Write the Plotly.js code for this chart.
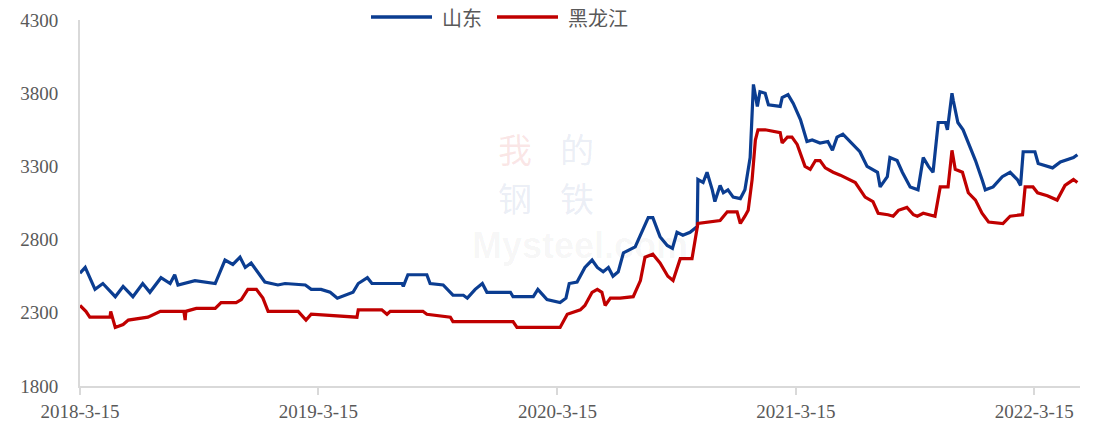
<!DOCTYPE html>
<html>
<head>
<meta charset="utf-8">
<script src="https://cdn.plot.ly/plotly-3.0.1.min.js"></script>
<style>html,body{margin:0;padding:0;background:#fff;}#chart{width:1095px;height:430px;}</style>
</head>
<body>
<div id="chart"></div>
<script>
// ---- data ----
const seriesNames = ["山东", "黑龙江"];
const tickDates = ["2018-03-15", "2019-03-15", "2020-03-15", "2021-03-15", "2022-03-15"];
const tickLabels = ["2018-3-15", "2019-3-15", "2020-3-15", "2021-3-15", "2022-3-15"];
const yTicks = [1800, 2300, 2800, 3300, 3800, 4300];

const shandongDates = [
"2018-03-15","2018-03-23","2018-04-07","2018-04-19","2018-05-08","2018-05-20","2018-06-04","2018-06-19","2018-06-30","2018-07-17",
"2018-07-31","2018-08-07","2018-08-12","2018-09-07","2018-10-08","2018-10-23","2018-11-04","2018-11-15","2018-11-23","2018-12-02",
"2018-12-23","2019-01-12","2019-01-23","2019-02-23","2019-03-04","2019-03-19","2019-04-02","2019-04-13","2019-05-07","2019-05-15",
"2019-05-29","2019-06-05","2019-07-21","2019-07-23","2019-07-30","2019-08-28","2019-09-02","2019-09-22","2019-10-07","2019-10-23",
"2019-10-29","2019-11-10","2019-11-21","2019-11-28","2020-01-03","2020-01-07","2020-02-07","2020-02-14","2020-02-28","2020-03-19",
"2020-03-28","2020-04-02","2020-04-14","2020-04-26","2020-05-07","2020-05-15","2020-05-24","2020-06-01","2020-06-08","2020-06-16",
"2020-06-24","2020-07-12","2020-07-20","2020-08-01","2020-08-08","2020-08-19","2020-08-30","2020-09-07","2020-09-14","2020-09-23",
"2020-10-04","2020-10-15","2020-10-16","2020-10-24","2020-10-30","2020-11-07","2020-11-11","2020-11-19","2020-11-24","2020-12-01",
"2020-12-09","2020-12-20","2020-12-27","2021-01-04","2021-01-09","2021-01-15","2021-01-19","2021-01-27","2021-02-01","2021-02-19",
"2021-02-22","2021-03-03","2021-03-11","2021-03-22","2021-04-01","2021-04-09","2021-04-21","2021-05-03","2021-05-10","2021-05-17",
"2021-05-26","2021-06-11","2021-06-21","2021-07-02","2021-07-18","2021-07-22","2021-08-02","2021-08-06","2021-08-17","2021-08-25",
"2021-09-06","2021-09-18","2021-09-26","2021-10-04","2021-10-11","2021-10-19","2021-10-30","2021-11-02","2021-11-09","2021-11-11",
"2021-11-18","2021-11-26","2021-12-10","2021-12-15","2021-12-25","2021-12-30","2022-01-11","2022-01-25","2022-02-06","2022-02-17",
"2022-02-22","2022-02-26","2022-03-16","2022-03-21","2022-04-12","2022-04-24","2022-05-14","2022-05-20"
];
const shandongValues = [
2570,2610,2460,2500,2410,2480,2410,2500,2440,2540,
2500,2560,2490,2520,2500,2660,2630,2680,2610,2640,
2510,2490,2500,2490,2460,2460,2440,2400,2440,2500,
2540,2500,2500,2480,2560,2560,2500,2490,2420,2420,
2400,2460,2500,2440,2440,2410,2410,2460,2390,2370,
2400,2500,2510,2610,2660,2610,2580,2610,2550,2580,
2710,2750,2830,2950,2950,2820,2760,2740,2850,2830,
2850,2890,3210,3190,3260,3140,3060,3170,3120,3140,
3090,3080,3140,3360,3860,3710,3810,3800,3720,3710,
3770,3790,3730,3620,3470,3480,3460,3470,3410,3500,
3520,3450,3400,3300,3260,3160,3230,3360,3340,3260,
3160,3140,3360,3300,3260,3600,3600,3550,3800,3750,
3600,3550,3400,3340,3210,3140,3160,3230,3260,3210,
3170,3400,3400,3320,3290,3330,3360,3380
];

const heilongjiangDates = [
"2018-03-15","2018-03-24","2018-03-30","2018-04-30","2018-05-01","2018-05-08","2018-05-20","2018-05-28","2018-06-27","2018-07-16",
"2018-08-21","2018-08-23","2018-08-24","2018-09-09","2018-10-08","2018-10-17","2018-11-09","2018-11-17","2018-11-27","2018-12-10",
"2018-12-20","2018-12-28","2019-02-12","2019-02-24","2019-03-04","2019-05-13","2019-05-15","2019-06-20","2019-06-28","2019-07-03",
"2019-08-22","2019-08-28","2019-10-03","2019-10-07","2020-01-07","2020-01-13","2020-03-19","2020-03-30","2020-04-19","2020-04-26",
"2020-05-07","2020-05-15","2020-05-22","2020-05-27","2020-06-04","2020-06-19","2020-07-09","2020-07-20","2020-07-27","2020-08-08",
"2020-08-19","2020-08-31","2020-09-08","2020-09-14","2020-09-19","2020-10-07","2020-10-15","2020-10-16","2020-11-19","2020-11-30",
"2020-12-15","2020-12-20","2020-12-27","2021-01-01","2021-01-07","2021-01-12","2021-01-16","2021-01-27","2021-02-19","2021-02-22",
"2021-03-02","2021-03-09","2021-03-17","2021-03-29","2021-04-06","2021-04-14","2021-04-21","2021-04-29","2021-05-11","2021-05-22",
"2021-06-14","2021-06-29","2021-07-11","2021-07-19","2021-08-03","2021-08-11","2021-08-19","2021-09-01","2021-09-11","2021-09-17",
"2021-09-26","2021-10-14","2021-10-22","2021-11-03","2021-11-09","2021-11-14","2021-11-25","2021-12-04","2021-12-15","2021-12-25",
"2022-01-04","2022-01-26","2022-02-06","2022-02-25","2022-03-01","2022-03-13","2022-03-20","2022-04-04","2022-04-19","2022-05-01",
"2022-05-14","2022-05-20"
];
const heilongjiangValues = [
2350,2310,2270,2270,2310,2200,2220,2250,2270,2310,
2310,2250,2310,2330,2330,2370,2370,2390,2460,2460,
2400,2310,2310,2250,2290,2270,2320,2320,2290,2310,
2310,2290,2270,2240,2240,2200,2200,2290,2320,2350,
2440,2460,2440,2350,2400,2400,2410,2520,2680,2700,
2640,2550,2520,2610,2670,2670,2890,2910,2930,2990,
2990,2910,2960,3000,3210,3480,3550,3550,3530,3460,
3500,3500,3450,3300,3280,3340,3340,3290,3260,3240,
3190,3090,3060,2980,2970,2960,3000,3020,2970,2960,
2980,2960,3160,3160,3410,3280,3260,3120,3070,2980,
2920,2910,2960,2970,3160,3160,3120,3100,3070,3170,
3210,3190
];

const colors = ["#0B3D91", "#C00000"];

const traces = [
  {x: shandongDates, y: shandongValues, name: seriesNames[0], type: "scatter", mode: "lines",
   line: {color: colors[0], width: 3.2}},
  {x: heilongjiangDates, y: heilongjiangValues, name: seriesNames[1], type: "scatter", mode: "lines",
   line: {color: colors[1], width: 3.2}}
];

const tickFont = {family: "Liberation Serif, Times New Roman, serif", size: 19, color: "#595959"};

const wmChar = (txt, x, y, color) => ({
  text: txt, xref: "paper", yref: "paper", x: x, y: y, showarrow: false,
  font: {family: "Noto Sans CJK SC, sans-serif", size: 34, color: color}
});

// custom legend (line swatches + labels) placed above the plot
const legendY = 1.008;
const legendItems = [
  {name: seriesNames[0], color: colors[0], x0: 0.291, x1: 0.352, tx: 0.360},
  {name: seriesNames[1], color: colors[1], x0: 0.417, x1: 0.478, tx: 0.486}
];
const legendShapes = legendItems.map(it => ({
  type: "line", xref: "paper", yref: "paper", x0: it.x0, x1: it.x1, y0: legendY, y1: legendY,
  line: {color: it.color, width: 3.5}
}));
const legendLabels = legendItems.map(it => ({
  text: it.name, xref: "paper", yref: "paper", x: it.tx, y: legendY, xanchor: "left", yanchor: "middle",
  showarrow: false, font: {family: "Noto Sans CJK SC, sans-serif", size: 20, color: "#595959"}
}));

const layout = {
  width: 1095, height: 430,
  margin: {l: 80, r: 15, t: 20, b: 44, autoexpand: false},
  paper_bgcolor: "#ffffff", plot_bgcolor: "#ffffff",
  showlegend: false,
  xaxis: {
    type: "date", range: ["2018-03-15", "2022-05-24"],
    tickmode: "array", tickvals: tickDates, ticktext: tickLabels,
    showgrid: false, zeroline: false,
    showline: true, linecolor: "#d9d9d9", linewidth: 2,
    ticks: "outside", ticklen: 7, tickcolor: "#d9d9d9", tickwidth: 2,
    tickfont: tickFont, fixedrange: true
  },
  yaxis: {
    range: [1800, 4300], tickmode: "array", tickvals: yTicks,
    showgrid: false, zeroline: false,
    showline: true, linecolor: "#d9d9d9", linewidth: 2,
    ticks: "", ticklabelstandoff: 16,
    tickfont: tickFont, fixedrange: true
  },
  shapes: legendShapes,
  annotations: [
    wmChar("我", 0.435, 0.650, "rgba(220,60,60,0.13)"),
    wmChar("的", 0.497, 0.650, "rgba(60,90,160,0.11)"),
    wmChar("钢", 0.435, 0.514, "rgba(60,90,160,0.11)"),
    wmChar("铁", 0.497, 0.514, "rgba(60,90,160,0.11)"),
    {text: "<b>Mysteel.com</b>", xref: "paper", yref: "paper", x: 0.50, y: 0.385, showarrow: false,
     font: {family: "Liberation Sans, Arial, sans-serif", size: 36, color: "rgba(0,0,0,0.045)"}}
  ].concat(legendLabels)
};

Plotly.newPlot("chart", traces, layout, {displayModeBar: false, staticPlot: true});
</script>
</body>
</html>
